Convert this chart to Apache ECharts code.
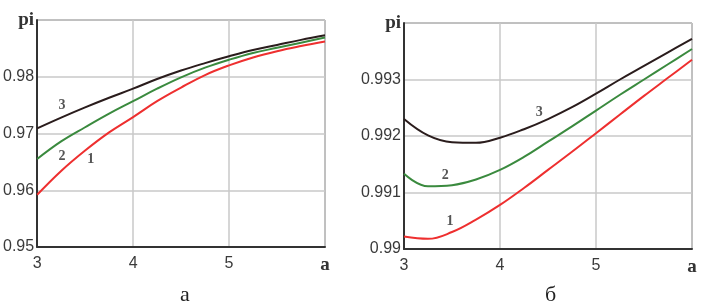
<!DOCTYPE html>
<html>
<head>
<meta charset="utf-8">
<script src="https://cdn.jsdelivr.net/npm/echarts@6/dist/echarts.min.js"></script>
<style>
html,body{margin:0;padding:0;background:#fff;}
#chart{width:708px;height:307px;}
</style>
</head>
<body>
<div id="chart"></div>
<script>
// ---- data ----
const xValues = [3, 3.25, 3.5, 3.75, 4, 4.25, 4.5, 4.75, 5, 5.25, 5.5, 5.75, 6];

// panel "а"
const a_curve1 = [0.9592, 0.9634, 0.9670, 0.9702, 0.9729, 0.9757, 0.9781, 0.9803, 0.9820, 0.9834, 0.9845, 0.9854, 0.9862];
const a_curve2 = [0.9655, 0.9686, 0.9711, 0.9735, 0.9757, 0.9779, 0.9799, 0.9816, 0.9830, 0.9842, 0.9851, 0.9860, 0.9869];
const a_curve3 = [0.9709, 0.9728, 0.9746, 0.9763, 0.9779, 0.9796, 0.9811, 0.9824, 0.9836, 0.9847, 0.9856, 0.9865, 0.9873];

// panel "б"
const b_curve1 = [0.99022, 0.99018, 0.99030, 0.99052, 0.99078, 0.99108, 0.99140, 0.99172, 0.99205, 0.99238, 0.99271, 0.99303, 0.99335];
const b_curve2 = [0.99133, 0.99111, 0.99113, 0.99123, 0.99140, 0.99163, 0.99190, 0.99217, 0.99245, 0.99273, 0.99300, 0.99327, 0.99354];
const b_curve3 = [0.99230, 0.99201, 0.99189, 0.99188, 0.99197, 0.99212, 0.99230, 0.99251, 0.99275, 0.99300, 0.99324, 0.99348, 0.99372];

// tick labels
const xTickLabels = ['3', '4', '5', 'a'];
const aYTickLabels = ['0.95', '0.96', '0.97', '0.98', 'pi'];
const bYTickLabels = ['0.99', '0.991', '0.992', '0.993', 'pi'];
const curveNames = ['1', '2', '3'];
const captions = ['а', 'б'];

// ---- chart ----
const chart = echarts.init(document.getElementById('chart'), null, {renderer: 'canvas'});
const colors = ['#ee2f2f', '#3a8a3e', '#2a1c1c'];
const toPairs = arr => xValues.map((x, i) => [x, arr[i]]);

const serifRich = {
  s: {fontFamily: 'Liberation Serif', fontWeight: 'bold', fontSize: 19, color: '#333'}
};

function xAxisCfg(gi) {
  return {
    type: 'value', gridIndex: gi, min: 3, max: 6, interval: 1,
    axisLine: {show: true, lineStyle: {color: '#333', width: 2}},
    axisTick: {show: false},
    splitLine: {show: true, lineStyle: {color: '#c8c8c8', width: 1.5}},
    axisLabel: {
      margin: 9, fontFamily: 'Liberation Sans', fontSize: 16, color: '#3a3a3a',
      formatter: (v) => {
        const idx = Math.round(v - 3);
        const t = xTickLabels[idx];
        return t === 'a' ? '{s|' + t + '}' : t;
      },
      rich: serifRich
    }
  };
}
function yAxisCfg(gi, min, max, step, labels) {
  return {
    type: 'value', gridIndex: gi, min: min, max: max, interval: step,
    axisLine: {show: true, lineStyle: {color: '#333', width: 2}},
    axisTick: {show: false},
    splitLine: {show: true, lineStyle: {color: '#c8c8c8', width: 1.5}},
    axisLabel: {
      margin: 3, fontFamily: 'Liberation Sans', fontSize: 16, color: '#3a3a3a',
      formatter: (v) => {
        const idx = Math.round((v - min) / step);
        const t = labels[idx];
        return t === 'pi' ? '{s|' + t + '}' : t;
      },
      rich: serifRich
    }
  };
}

function lineSeries(gi, arr, ci, labelCoord) {
  return {
    type: 'line', xAxisIndex: gi, yAxisIndex: gi, data: toPairs(arr),
    smooth: 0.4, showSymbol: false, silent: true,
    lineStyle: {color: colors[ci], width: 2},
    markPoint: {
      symbol: 'circle', symbolSize: 0, silent: true,
      label: {show: true, position: 'inside', formatter: curveNames[ci],
              fontFamily: 'Liberation Serif', fontWeight: 'bold', fontSize: 14, color: '#555'},
      data: [{coord: labelCoord}]
    }
  };
}

chart.setOption({
  animation: false,
  backgroundColor: '#fff',
  grid: [
    {left: 37, top: 20, width: 288, height: 227, show: true, borderColor: '#555', borderWidth: 1},
    {left: 404, top: 23, width: 288, height: 226, show: true, borderColor: '#555', borderWidth: 1}
  ],
  xAxis: [xAxisCfg(0), xAxisCfg(1)],
  yAxis: [
    yAxisCfg(0, 0.95, 0.99, 0.01, aYTickLabels),
    yAxisCfg(1, 0.990, 0.994, 0.001, bYTickLabels)
  ],
  series: [
    lineSeries(0, a_curve1, 0, [3.56, 0.9655]),
    lineSeries(0, a_curve2, 1, [3.26, 0.9659]),
    lineSeries(0, a_curve3, 2, [3.26, 0.9750]),
    lineSeries(1, b_curve1, 0, [3.48, 0.99048]),
    lineSeries(1, b_curve2, 1, [3.43, 0.99131]),
    lineSeries(1, b_curve3, 2, [4.41, 0.99241])
  ],
  graphic: [
    {type: 'text', left: 180, top: 284, style: {text: captions[0], font: '22px "Liberation Serif"', fill: '#222'}},
    {type: 'text', left: 545, top: 284, style: {text: captions[1], font: '22px "Liberation Serif"', fill: '#222'}}
  ]
});
</script>
</body>
</html>
